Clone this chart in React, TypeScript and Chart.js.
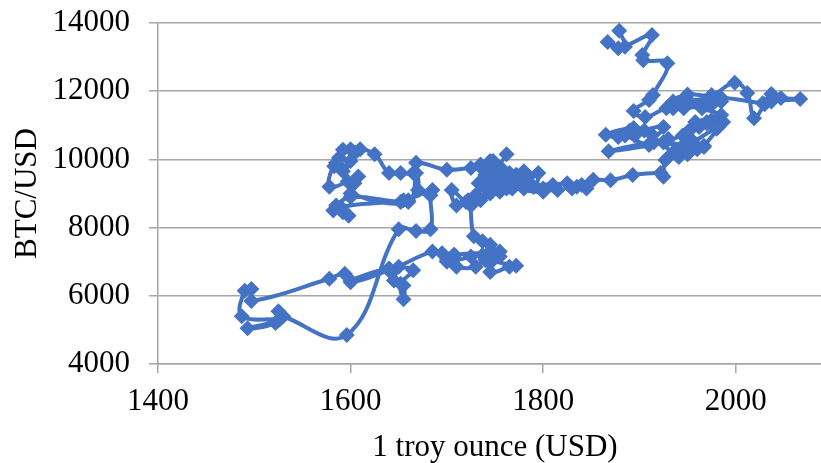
import React, { useEffect, useRef } from "react";
import { Chart, registerables } from "chart.js";

Chart.register(...registerables);

// Path section 1: centre block to the upper-left cluster and down to the 4850 low
const goldA = [
  1762,1750,1745,1740,1725,1700,1668,1665,1652,1640,1625,1610,1605,1600,1592,1588,1585,1590,1600,1592,1583,1578,1597,1608,1604,1600,
  1660,1668,1670,1660,1652,1600,1585,1582,1592,1598,1590,1655,1685,1683,1683,1668,1650,1596
];
const btcA = [
  10150,9700,9950,9750,9750,9700,9900,9600,9600,9600,10150,10300,10200,10300,10280,10050,9900,9750,9950,9650,9800,9200,9350,9500,9300,9000,
  8750,9600,9100,8800,8750,8900,8650,8500,8450,8350,8600,8800,9100,8950,7950,7900,7950,4850
];
// Path section 2: lower-left loop, 6000-7500 band
const goldB = [
  1530,1525,1522,1493,1526,1487,1490,1497,1497,1578,1594,1600,1640,1650,1645,1655,1655,1652,1665,1640,1600,1640,
  1685,1695,1707,1700,1710,1730,1742,1745,1765,1772,1748,1755,1745,1737,1740,1750,1708,1700,1725,1745,1755,1745,1737,1728
];
const btcB = [
  5400,5550,5200,5050,5300,5400,6150,6200,5850,6500,6650,6400,6750,6850,6450,6300,5900,6350,6750,6800,6450,6750,
  7300,7250,7200,7050,6850,6850,7150,6700,6850,6880,7050,7300,7100,7200,7050,7200,7200,7000,7150,7300,7150,7500,7600,7750
];
// Path section 3: dense centre block and the tail toward 1870
const goldC = [
  1722,1710,1705,1725,1730,1720,1735,1745,1728,1740,1755,1733,1750,1762,1745,1738,1752,1770,1745,1735,1760,1748,1765,1740,1755,1772,1750,1745,
  1765,1780,1760,1742,1772,1758,1778,1750,1768,1785,1765,1790,1795,1780,1800,1790,1810,1815,1800,1825,1830,1840,1845,1835,1852,1870,1893,1922,1925
];
const btcC = [
  8800,8650,9100,8650,8950,8750,8800,9000,8900,9150,9050,9300,9200,9150,9450,9700,9350,9250,9600,9850,9500,9950,9300,9550,9750,9400,9650,9200,
  9200,9650,9450,9750,9550,9700,9300,9400,9150,9500,9600,9200,9600,9150,9050,9200,9250,9100,9150,9300,9150,9250,9150,9200,9400,9390,9540,9600,9490
];
// Path section 4: upper-right tangle and final climb
const goldD = [
  1927,1941,1935,1950,1945,1960,1967,1955,1945,1952,1962,1970,1958,1975,1982,1987,1967,1980,1945,1938,1925,1945,1915,1910,1925,1905,1895,1890,1912,1894,
  1865,1878,1885,1910,1930,1868,1925,1950,1970,1985,1940,1965,1935,1950,1975,1999,2012,2019,2030,2037,2047,2067,2037,2028,1985,1945,1975,1950,1985,1935,1970,1946,1928,1906,1894,1910,1914,1929,1904,1903,1913,1878,1867,1885,1879
];
const btcD = [
  9980,10070,10200,10150,10350,10300,10360,10550,10700,10850,10950,11050,11100,11150,10950,11100,10400,10900,10300,10150,10500,10400,10500,10450,10950,10850,10700,10850,10750,10920,
  10720,10660,10700,10420,10600,10240,10500,10800,11100,11300,11650,11500,11700,11900,11890,12250,11950,11210,11620,11920,11800,11770,11700,11650,11800,11650,11600,11740,11700,11500,11600,11500,11500,11240,11420,11740,11890,12820,12910,13060,13650,13260,13440,13300,13775
];

const goldUsd = [...goldA, ...goldB, ...goldC, ...goldD];
const btcUsd = [...btcA, ...btcB, ...btcC, ...btcD];

const xTicks = [1400, 1600, 1800, 2000];
const yTicks = [4000, 6000, 8000, 10000, 12000, 14000];
const xTitle = "1 troy ounce (USD)";
const yTitle = "BTC/USD";

export default function App() {
  const ref = useRef<HTMLCanvasElement>(null);
  useEffect(() => {
    document.body.style.margin = "0";
    document.body.style.overflow = "hidden";
    const pts = goldUsd.map((x, i) => ({ x, y: btcUsd[i] }));
    const font = { family: "'Liberation Serif', serif", size: 31 };
    const titleFont = { family: "'Liberation Serif', serif", size: 31, lineHeight: 1 };
    const fmt = (v: any) => String(v);
    const chart = new Chart(ref.current!, {
      type: "scatter",
      data: {
        datasets: [{
          data: pts,
          showLine: true,
          tension: 0.4,
          borderColor: "#4472C4",
          backgroundColor: "#4472C4",
          borderWidth: 4,
          pointStyle: "rectRot",
          pointRadius: 8,
          pointBorderWidth: 0,
          clip: false,
        }],
      },
      options: {
        responsive: false,
        animation: false,
        plugins: { legend: { display: false }, tooltip: { enabled: false } },
        scales: {
          x: {
            type: "linear",
            min: 1400,
            max: 2100,
            afterBuildTicks: (a: any) => { a.ticks = xTicks.map((value) => ({ value })); },
            grid: { display: true, drawOnChartArea: false, tickLength: 9, tickColor: "#a6a6a6", lineWidth: 1.5 },
            border: { color: "#a6a6a6", width: 1.5 },
            ticks: { color: "#000", font, maxRotation: 0, padding: 10, callback: fmt, autoSkip: false },
            title: { display: true, text: xTitle, color: "#000", font: titleFont, padding: 0 },
            afterFit: (s: any) => { s.height = 99; },
          },
          y: {
            type: "linear",
            min: 4000,
            max: 14000,
            afterBuildTicks: (a: any) => { a.ticks = yTicks.map((value) => ({ value })); },
            grid: { color: "#a6a6a6", lineWidth: 1.5, tickLength: 9, tickColor: "#a6a6a6" },
            border: { color: "#a6a6a6", width: 1.5 },
            ticks: { color: "#000", font, padding: 19, callback: fmt },
            title: { display: true, text: yTitle, color: "#000", font: titleFont, padding: { top: 12, bottom: 0 } },
            afterFit: (s: any) => { s.width = 158; s.paddingTop = 0; s.paddingBottom = 0; },
          },
        },
        layout: { padding: { top: 23, right: 0, left: 0, bottom: 0 } },
      },
    } as any);
    return () => chart.destroy();
  }, []);
  return (
    <div style={{ width: 821, height: 463, overflow: "hidden" }}>
      <canvas ref={ref} width={840} height={463} style={{ display: "block" }} />
    </div>
  );
}
